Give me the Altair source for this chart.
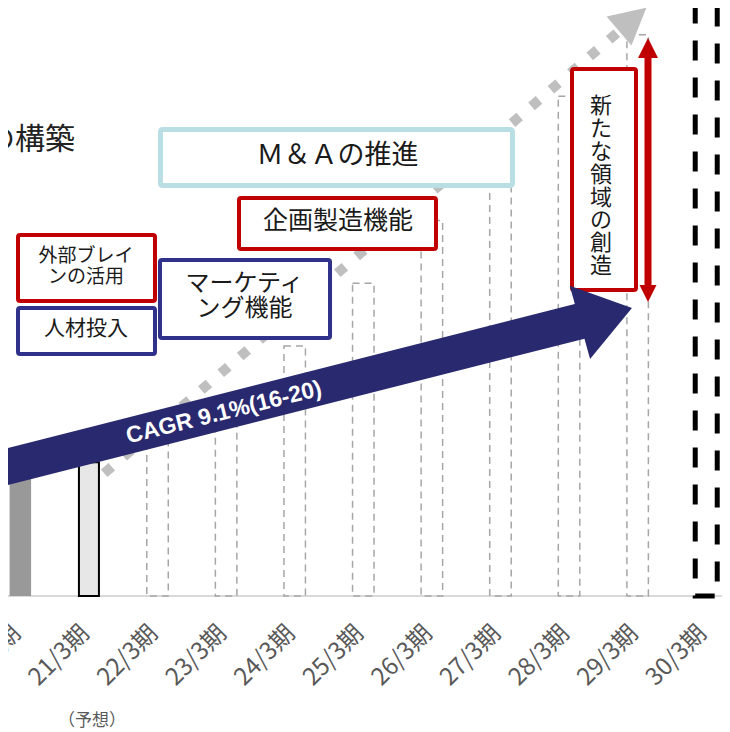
import altair as alt
import pandas as pd

# ---- data -----------------------------------------------------------------
categories = ["20/3期", "21/3期", "22/3期", "23/3期", "24/3期", "25/3期",
              "26/3期", "27/3期", "28/3期", "29/3期", "30/3期"]
values = [95, 100, 119, 142, 187, 234, 281, 327, 374, 420, 480]
status = ["実績", "予想", "計画", "計画", "計画", "計画", "計画", "計画", "計画", "計画", "目標"]

# annotation anchors (in chart data units: x = period index, y = value)
box_text = ["外部ブレイ\nンの活用", "人材投入", "マーケティ\nング機能",
            "企画製造機能", "Ｍ＆Ａの推進", "新\nた\nな\n領\n域\nの\n創\n造"]
box_x1 = [-0.034, -0.034, 2.036, 3.188, 2.043, 8.043]
box_x2 = [1.963, 1.963, 4.515, 6.060, 7.175, 8.976]
box_y1 = [220.7, 181.1, 193.1, 259.7, 307.2, 229.0]
box_y2 = [270.1, 215.5, 251.4, 297.8, 349.1, 394.3]
box_tx = [0.957, 0.957, 3.268, 4.631, 4.624, 8.466]
box_ty = [254.4, 199.8, 233.5, 280.6, 329.2, 366.7]

cagr_label = "CAGR 9.1%(16-20)"
left_label = "基盤の構築"
forecast_note = "（予想）"
label_level = -25.4   # where the rotated period labels hang, below the baseline
label_shift = -0.05   # small leftward shift of the rotated labels

df = pd.DataFrame({"idx": list(range(len(categories))), "cat": categories,
                   "value": values, "status": status})

xs = alt.Scale(domain=[-0.18, 10.23], nice=False, zero=False, padding=0)
ys = alt.Scale(domain=[0, 440], nice=False, padding=0)


def X(f):
    return alt.X(f, scale=xs, axis=None, title=None)


def Y(f):
    return alt.Y(f, scale=ys, axis=None, title=None)


base = alt.Chart(df)
bar_actual = base.transform_filter(alt.datum.status == "実績").mark_bar(
    size=21.5, color="#999999").encode(x=X("idx:Q"), y=Y("value:Q"), y2=alt.datum(0))
bar_fc = base.transform_filter(alt.datum.status == "予想").mark_bar(
    size=20, fill="#e7e7e7", stroke="black", strokeWidth=2).encode(
    x=X("idx:Q"), y=Y("value:Q"), y2=alt.datum(0))
bar_plan = base.transform_filter(alt.datum.status == "計画").mark_bar(
    size=21.5, fill="white", fillOpacity=0, stroke="#a6a6a6", strokeWidth=1.5,
    strokeDash=[7, 5]).encode(x=X("idx:Q"), y=Y("value:Q"), y2=alt.datum(0))
bar_goal = base.transform_filter(alt.datum.status == "目標").mark_bar(
    size=22, fill="white", fillOpacity=0, stroke="black", strokeWidth=5,
    strokeDash=[20, 17]).encode(x=X("idx:Q"), y=Y("value:Q"), y2=alt.datum(0))

# category axis: baseline and rotated labels
baseline = alt.Chart(pd.DataFrame({"x": [-0.18], "x2": [10.23], "y": [0.0]})).mark_rule(
    color="#d9d9d9", strokeWidth=2).encode(x=X("x:Q"), x2="x2:Q", y=Y("y:Q"))
labels = base.transform_calculate(
    ly=str(label_level), lx="datum.idx + (" + str(label_shift) + ")").mark_text(
    angle=315, align="right", baseline="middle", fontSize=24,
    font="Noto Sans CJK JP", color="#595959").encode(
    x=X("lx:Q"), y=Y("ly:Q"), text="cat:N")

# gray dotted growth arrow
dot_df = pd.DataFrame({"x": [1.2225], "y": [91.8], "x2": [8.699], "y2": [421.3]})
dot_line = alt.Chart(dot_df).mark_rule(color="#bfbfbf", strokeWidth=10,
                                      strokeDash=[10, 15.6], strokeCap="butt").encode(
    x=X("x:Q"), y=Y("y:Q"), x2="x2:Q", y2="y2:Q")
dot_head = alt.Chart(pd.DataFrame({"x": [8.928], "y": [431.5]})).mark_point(
    shape="M0,-1L1.06,1L-1.06,1Z", size=1296, angle=49.5, filled=True,
    color="#bfbfbf", opacity=1, strokeWidth=0).encode(x=X("x:Q"), y=Y("y:Q"))

left_text = alt.Chart(pd.DataFrame({"x": [0.797], "y": [341.2], "t": [left_label]})).mark_text(
    align="right", baseline="middle", fontSize=30, font="Noto Sans CJK JP",
    color="#222222").encode(x=X("x:Q"), y=Y("y:Q"), text="t:N")

# boxes
box_colors = ["#c00000", "#2f318b", "#2f318b", "#c00000", "#b9dfe5", "#c00000"]
box_widths = [4, 4, 4, 4, 5, 4]
font_sizes = [19, 21, 24, 25, 27, 22]
line_heights = [21, 24, 25, 28, 30, 22.9]
layers_boxes = []
for i in range(len(box_text)):
    bdf = pd.DataFrame({"x": [box_x1[i]], "x2": [box_x2[i]], "y": [box_y1[i]],
                        "y2": [box_y2[i]], "tx": [box_tx[i]], "ty": [box_ty[i]],
                        "t": [box_text[i]]})
    rect = alt.Chart(bdf).mark_rect(fill="white", stroke=box_colors[i],
                                    strokeWidth=box_widths[i], cornerRadius=2).encode(
        x=X("x:Q"), x2="x2:Q", y=Y("y:Q"), y2="y2:Q")
    txt = alt.Chart(bdf).mark_text(align="center", baseline="middle", lineBreak="\n",
                                   fontSize=font_sizes[i], lineHeight=line_heights[i],
                                   font="Noto Sans CJK JP", color="#1a1a1a").encode(
        x=X("tx:Q"), y=Y("ty:Q"), text="t:N")
    layers_boxes += [rect, txt]

# navy CAGR arrow
navy = "#29296f"
navy_body = alt.Chart(pd.DataFrame({"x": [-0.442], "y": [93.5], "x2": [8.305], "y2": [207.5]})).mark_rule(
    color=navy, strokeWidth=36, strokeCap="butt").encode(
    x=X("x:Q"), y=Y("y:Q"), x2="x2:Q", y2="y2:Q")
navy_head = alt.Chart(pd.DataFrame({"x": [8.538], "y": [210.2]})).mark_point(
    shape="M0,-1L1.407,1L-1.407,1Z", size=2916, angle=74.5, filled=True,
    color=navy, opacity=1, strokeWidth=0).encode(x=X("x:Q"), y=Y("y:Q"))
cagr = alt.Chart(pd.DataFrame({"x": [2.969], "y": [137.3], "t": [cagr_label]})).mark_text(
    align="center", baseline="middle", angle=346, fontSize=23, fontWeight="bold",
    font="Liberation Sans", color="white").encode(x=X("x:Q"), y=Y("y:Q"), text="t:N")

# red double arrow
red = "#c00000"
red_shaft = alt.Chart(pd.DataFrame({"x": [9.151], "y": [229.0], "y2": [407.1]})).mark_rule(
    color=red, strokeWidth=7, strokeCap="butt").encode(x=X("x:Q"), y=Y("y:Q"), y2="y2:Q")
red_up = alt.Chart(pd.DataFrame({"x": [9.151], "y": [410.1]})).mark_point(
    shape="M0,-1L1,1L-1,1Z", size=400, angle=0, filled=True, color=red, opacity=1,
    strokeWidth=0).encode(x=X("x:Q"), y=Y("y:Q"))
red_down = alt.Chart(pd.DataFrame({"x": [9.151], "y": [226.4]})).mark_point(
    shape="M0,-1L1,1L-1,1Z", size=289, angle=180, filled=True, color=red, opacity=1,
    strokeWidth=0).encode(x=X("x:Q"), y=Y("y:Q"))

note = alt.Chart(pd.DataFrame({"x": [1.045], "y": [-93.5], "t": [forecast_note]})).mark_text(
    align="center", baseline="middle", fontSize=17, font="Noto Sans CJK JP",
    color="#595959").encode(x=X("x:Q"), y=Y("y:Q"), text="t:N")

chart = alt.layer(
    baseline, bar_actual, bar_fc, bar_plan, bar_goal, labels, dot_line, dot_head, left_text,
    *layers_boxes, navy_body, navy_head, cagr, red_shaft, red_up, red_down, note
).properties(
    width=714, height=588, background="white",
    autosize=alt.AutoSizeParams(type="none"),
    padding={"left": 0, "top": 0, "right": 0, "bottom": 134},
).configure_view(strokeWidth=0)

chart.save("out.html", embed_options={"renderer": "svg", "actions": False})
